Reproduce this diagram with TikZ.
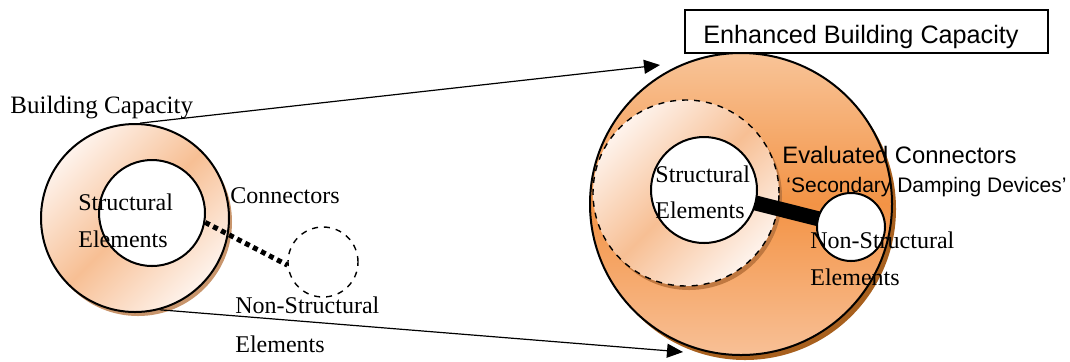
\documentclass[tikz,border=0pt]{standalone}
\usepackage{fontspec}
\setmainfont{Liberation Serif}
\newfontfamily\arialf{Liberation Sans}
\usetikzlibrary{arrows.meta}
\definecolor{peachD}{HTML}{F7BF94}
\definecolor{peachL}{HTML}{FEF3EC}
\definecolor{orTop}{HTML}{F8C498}
\definecolor{orMid}{HTML}{F39345}
\definecolor{orBot}{HTML}{F8C096}
\definecolor{shadowL}{HTML}{C8956C}
\definecolor{shadowR}{HTML}{A8601E}
\definecolor{shadowD}{HTML}{C07840}
\begin{document}
\begin{tikzpicture}[x=0.5pt,y=-0.5pt,
  lbl/.style={anchor=base west, inner sep=0pt, font=\fontsize{12}{15}\selectfont},
  slbl/.style={anchor=base west, inner sep=0pt, font=\arialf\fontsize{12.6}{15}\selectfont},
  ball/.style={circle, draw=black, line width=1pt, inner sep=0pt},
  shad/.style={circle, inner sep=0pt, draw=none},
  dashball/.style={circle, draw=black, dashed, line width=0.7pt, inner sep=0pt},
  ringshade/.style={top color=peachL, bottom color=peachL, middle color=peachD, shading angle=45},
  arr/.style={line width=0.6pt, -{Triangle[length=8pt,width=7pt]}}]
\useasboundingbox (0,0) rectangle (1070,361);
% ---- left group ----
\node[shad, fill=shadowL, minimum size=94pt] (lbs) at (138,222) {};
\node[ball, minimum size=94pt, ringshade] (lb) at (135,218) {};
\node[ball, fill=white, minimum size=53pt] (li) at (152,213) {};
\node[dashball, minimum size=35pt] (nsl) at (323,262) {};
\draw[line width=2.5pt, dash pattern=on 2.5pt off 2pt] (li.-10) -- (nsl.185);
\node[lbl, font=\fontsize{12.5}{15}\selectfont] (t1) at (10,113) {Building Capacity};
\node[lbl] (t2) at (78,210) {Structural};
\node[lbl] (t3) at (78,247) {Elements};
\node[lbl] (t4) at (230,203) {Connectors};
\node[lbl] (t5) at (235,313) {Non-Structural};
\node[lbl] (t6) at (235,352) {Elements};
% ---- right group ----
\node[shad, fill=shadowR, minimum size=151pt] (rbs) at (745,209) {};
\node[ball, minimum size=151pt, top color=orTop, bottom color=orBot, middle color=orMid] (rb) at (741,204) {};
\node[shad, fill=shadowD, minimum size=93pt] (rds) at (689,197) {};
\node[dashball, minimum size=93pt, ringshade] (rd) at (686,193) {};
\draw[line width=7.5pt] (704,190) -- (851,227);
\node[ball, fill=white, minimum size=53pt] (ri) at (704,190) {};
\node[ball, fill=white, minimum size=34pt] (rns) at (851,227) {};
\node[draw=black, line width=1pt, minimum width=181.5pt, minimum height=21.5pt, inner sep=0pt] (box) at (866.5,31.5) {};
\node[slbl] (t7) at (703,43) {Enhanced Building Capacity};
\node[slbl, font=\arialf\fontsize{11.9}{14}\selectfont] (t8) at (782,163) {Evaluated Connectors};
\node[slbl, font=\arialf\fontsize{10.5}{13}\selectfont] (t9) at (786,192) {‘Secondary Damping Devices’};
\node[lbl] (t10) at (655,182) {Structural};
\node[lbl] (t11) at (655,218) {Elements};
\node[lbl] (t12) at (810,248) {Non-Structural};
\node[lbl] (t13) at (810,285) {Elements};
% ---- arrows ----
\coordinate (e1) at (660,65);
\coordinate (e2) at (683,352);
\draw[arr] (lb.87) -- (e1);
\draw[arr] (lb.-75) -- (e2);
\end{tikzpicture}
\end{document}
